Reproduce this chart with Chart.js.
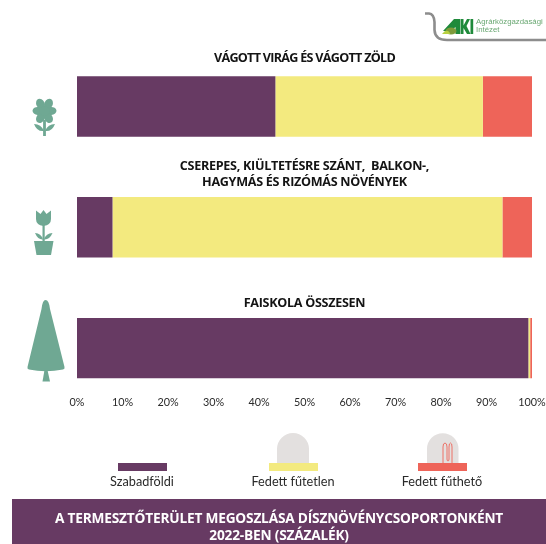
<!DOCTYPE html>
<html lang="hu">
<head>
    <meta charset="UTF-8">
    <title>A termesztőterület megoszlása</title>
    <script src="https://cdn.jsdelivr.net/npm/chart.js"></script>
    <style>
        html, body { margin: 0; padding: 0; background: #fff; }
        body { width: 546px; height: 544px; position: relative; overflow: hidden; font-family: Lato, sans-serif; color: #1a1a1a; }
        #chart-box { position: absolute; left: 0; top: 0; width: 546px; height: 544px; }
        .title { position: absolute; left: 77px; width: 455px; text-align: center; font-family: "Open Sans", sans-serif; font-weight: 700; font-size: 12.6px; letter-spacing: -0.3px; line-height: 16px; color: #141414; }
        #title-0 { top: 50px; letter-spacing: -0.72px; }
        #title-1 { top: 158px; }
        #title-2 { top: 295px; }
        .legend-label { position: absolute; top: 473px; width: 140px; text-align: center; font-size: 12.7px; line-height: 17px; color: #2a2a2a; }
        .swatch { position: absolute; top: 463px; width: 49px; height: 8px; }
        .band { position: absolute; left: 12px; right: 0; top: 499px; height: 45px; background: #673a63; color: #fff; text-align: center; font-family: "Open Sans", sans-serif; font-weight: 700; font-size: 13.7px; letter-spacing: -0.2px; line-height: 17px; padding-top: 10px; box-sizing: border-box; }
        .logo-text { position: absolute; left: 476px; top: 17.5px; font-family: "Liberation Sans", sans-serif; font-size: 7.8px; line-height: 8.8px; color: #6aa873; }
        svg { position: absolute; left: 0; top: 0; }
    </style>
</head>
<body>
    <div id="chart-box"><canvas id="areaChart" width="546" height="544"></canvas></div>

    <svg width="546" height="544" viewBox="0 0 546 544">
        <!-- logo -->
        <path d="M425 13.5 H429 Q434 14 434.5 22 V30 Q435 40 447 40 H546" fill="none" stroke="#8d8d8d" stroke-width="2.6"/>
        <path d="M443 31 L454 19 H460 V34 H455.5 V27 L451 31 Z" fill="#1f8a3b"/>
        <path d="M460.5 19 H463.5 V25.5 L467 19 H470 L466.5 26 L470.5 34 H467 L463.5 28 V34 H460.5 Z" fill="#1f8a3b"/>
        <rect x="470.5" y="19" width="2.7" height="15" fill="#1f8a3b"/>
        <ellipse cx="451" cy="31" rx="5.5" ry="3.5" fill="#7d9a3a"/>
        <path d="M442 34 Q445 30 448 31 Q450 32 450 34 Z" fill="#b7d03f"/>

        <!-- flower -->
        <g fill="#6fa893">
            <ellipse cx="40.5" cy="104" rx="4.2" ry="5.5" transform="rotate(-25 40.5 104)"/>
            <ellipse cx="48.5" cy="104" rx="4.2" ry="5.5" transform="rotate(25 48.5 104)"/>
            <ellipse cx="38" cy="111" rx="5.5" ry="4" transform="rotate(5 38 111)"/>
            <ellipse cx="51" cy="111" rx="5.5" ry="4" transform="rotate(-5 51 111)"/>
            <ellipse cx="40.5" cy="118" rx="4.2" ry="5.3" transform="rotate(30 40.5 118)"/>
            <ellipse cx="48.5" cy="118" rx="4.2" ry="5.3" transform="rotate(-30 48.5 118)"/>
            <circle cx="44.5" cy="111" r="5"/>
            <rect x="43.1" y="120" width="2.8" height="16"/>
            <path d="M34 124 Q41 124 44 131 Q37 132 34 124 Z"/>
            <path d="M55 124 Q48 124 45 131 Q52 132 55 124 Z"/>
        </g>

        <!-- tulip -->
        <g fill="#6fa893">
            <path d="M36 210.5 L40.5 214 L43.5 210 L46.5 214 L51 210.5 V219 Q51 225 43.5 226 Q36 225 36 219 Z"/>
            <rect x="42.5" y="224" width="2.2" height="18"/>
            <path d="M35 233 Q41 233 43 239.5 Q38 240 35 233 Z"/>
            <path d="M52.5 233 Q46 233 44 239.5 Q49.5 240 52.5 233 Z"/>
            <path d="M34 241 H53.5 L51 255 H36.5 Z"/>
        </g>

        <!-- tree -->
        <g fill="#6fa893">
            <path d="M45.5 300 Q42.5 300 41.5 309 L27.5 367 Q27 369 29 369.5 Q45.5 373 63 369.5 Q65 369 64.5 367 L50 309 Q49 300 45.5 300 Z"/>
            <path d="M44.5 370 H47.5 L50 381.5 H42.5 Z"/>
        </g>

        <!-- legend domes -->
        <path d="M277 463 V449 A16 16 0 0 1 309 449 V463 Z" fill="#e3e0df"/>
        <path d="M427 463 V449 A15.7 15.7 0 0 1 458.5 449 V463 Z" fill="#e3e0df"/>
        <path d="M443 463 V447 Q443 443 445 443 Q447 443 447 447 V459 Q447 461 448 461 Q449 461 449 459 V447 Q449 443 450.5 443 Q452 443 452 447 V463" fill="none" stroke="#ee6459" stroke-width="0.9"/>
    </svg>

    <div class="logo-text">Agrárközgazdasági<br>Intézet</div>

    <div class="title" id="title-0"></div>
    <div class="title" id="title-1"></div>
    <div class="title" id="title-2"></div>

    <div id="legend"></div>
    <div class="band">A TERMESZTŐTERÜLET MEGOSZLÁSA DÍSZNÖVÉNYCSOPORTONKÉNT<br>2022-BEN (SZÁZALÉK)</div>

    <script>
        const categories = [
            ['VÁGOTT VIRÁG ÉS VÁGOTT ZÖLD'],
            ['CSEREPES, KIÜLTETÉSRE SZÁNT,  BALKON-,', 'HAGYMÁS ÉS RIZÓMÁS NÖVÉNYEK'],
            ['FAISKOLA ÖSSZESEN']
        ];
        const seriesNames = ['Szabadföldi', 'Fedett fűtetlen', 'Fedett fűthető'];
        const szabadfoldi = [43.6, 7.8, 99.2];
        const fedettFutetlen = [45.6, 85.7, 0.4];
        const fedettFutheto = [10.8, 6.5, 0.4];
        const seriesColors = ['#673a63', '#f3ea7f', '#ee6459'];
        const legendCenters = [142, 293, 442];

        categories.forEach((lines, i) => {
            document.getElementById('title-' + i).innerHTML = lines.join('<br>').replace(/  /g, '&nbsp; ');
        });

        const legend = document.getElementById('legend');
        seriesNames.forEach((name, i) => {
            const swatch = document.createElement('div');
            swatch.className = 'swatch';
            swatch.style.left = (legendCenters[i] - 24.5) + 'px';
            swatch.style.background = seriesColors[i];
            legend.appendChild(swatch);

            const label = document.createElement('div');
            label.className = 'legend-label';
            label.style.left = (legendCenters[i] - 70) + 'px';
            label.textContent = name;
            legend.appendChild(label);
        });

        new Chart(document.getElementById('areaChart').getContext('2d'), {
            type: 'bar',
            data: {
                labels: categories,
                datasets: [
                    { label: seriesNames[0], data: szabadfoldi, backgroundColor: seriesColors[0] },
                    { label: seriesNames[1], data: fedettFutetlen, backgroundColor: seriesColors[1] },
                    { label: seriesNames[2], data: fedettFutheto, backgroundColor: seriesColors[2] }
                ]
            },
            options: {
                indexAxis: 'y',
                responsive: false,
                animation: false,
                categoryPercentage: 1,
                barPercentage: 0.5,
                layout: { padding: { left: 77, right: 14, top: 46, bottom: 135.5 } },
                plugins: { legend: { display: false }, tooltip: { enabled: false } },
                scales: {
                    y: { stacked: true, display: false },
                    x: {
                        stacked: true,
                        min: 0,
                        max: 100,
                        grid: { display: false, drawTicks: false },
                        border: { display: false },
                        ticks: {
                            stepSize: 10,
                            padding: -12,
                            maxRotation: 0,
                            autoSkip: false,
                            color: '#2a2a2a',
                            font: { family: 'Lato', size: 10.8 },
                            callback: (value) => value + '%'
                        }
                    }
                }
            }
        });
    </script>
</body>
</html>
